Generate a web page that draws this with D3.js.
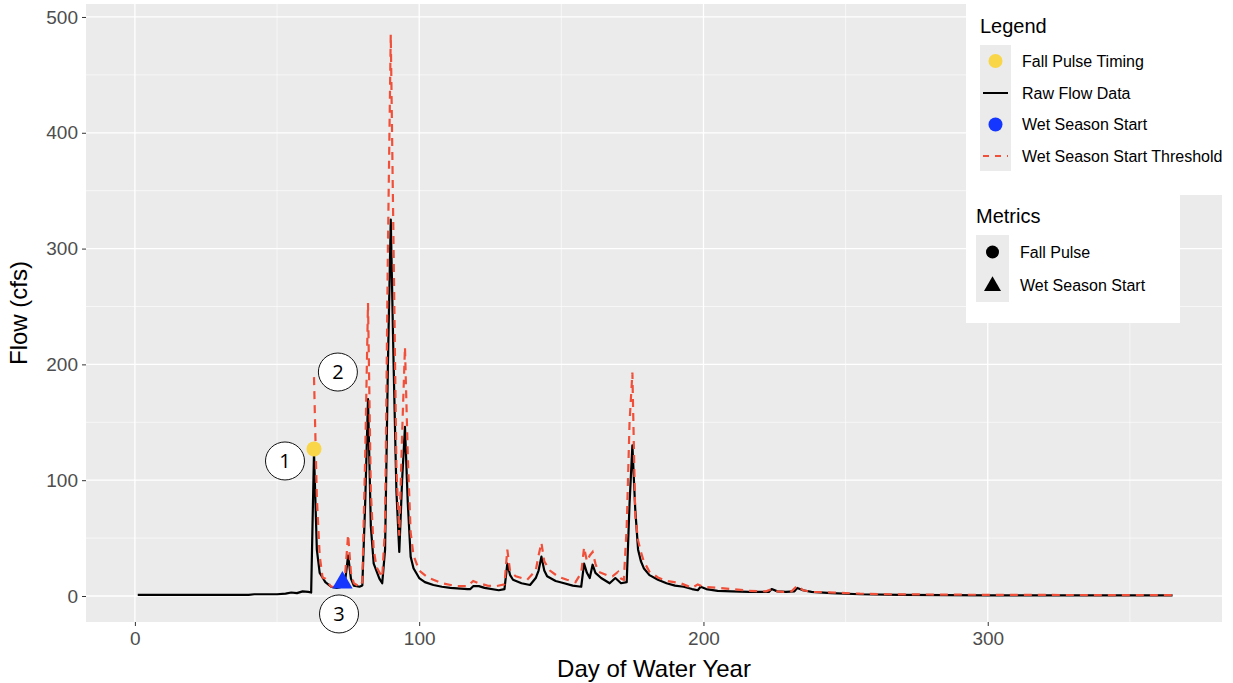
<!DOCTYPE html>
<html><head><meta charset="utf-8">
<script src="https://cdn.jsdelivr.net/npm/d3@7"></script>
<style>body{margin:0;background:#fff}svg{display:block;font-family:"Liberation Sans",Arial,sans-serif}</style>
</head><body><svg id="c" width="1233" height="683"></svg>
<script>
// ---------- data ----------
const flowDays   = [1,40,42,50,53,55,57,59,61,62,63,64,65,66,67,69,71,73,74,75,76,77,79,80,81,82,83,84,86,87,88,89,90,91,92,93,94,95,96,97,98,100,102,105,108,111,117,118,119,121,123,128,130,131,132,133,136,139,141,142,143,144,145,148,151,154,157,158,159,160,161,162,164,167,169,171,173,174,175,176,177,178,179,181,184,187,190,193,196,198,199,201,205,210,216,220,223,224,226,229,232,233,235,238,245,255,269,300,365];
const flowValues = [1,1,1.5,1.5,2,3,2.5,4,3.5,3,124,40,20,16,12,8,7,8,14,35,15,9,8,9,80,170,60,28,15,11,40,200,325,200,90,38,100,146,80,34,24,15.5,12,9.5,8,7,6,6,8.5,8.5,7,5,6,28,18,14,11,9.5,15.5,22,34,22,17,13,11,9,8,28,20,15.5,27,20,15.5,11,15.5,11,12,80,130,75,40,30,24,18,14,11,9,8,6,5,8,6,4.5,4,3.5,3.5,3.5,6,4,3.5,4,7,5,3.5,2.5,1.5,1,0.5,0.5];

const thresholdDays   = [63,64,65,66,67,69,71,73,74,75,76,77,79,80,81,82,83,84,85,87,88,89,90,91,92,93,94,95,96,97,98,100,103,105,108,113,117,119,121,124,127,130,131,132,134,138,141,142,143,144,146,149,152,155,157,158,159,160,161,162,163,166,168,170,171,172,173,174,175,176,177,178,179,181,184,187,192,196,198,200,205,210,216,222,224,226,228,231,233,235,238,246,255,265,300,365];
const thresholdValues = [189,85,35,16,15,8,8,9,20,53,20,11,8,12,120,253,90,40,25,16,60,300,485,300,110,52,140,215,120,55,35,22,16,14,11,8.5,8.5,13,11,9,8.5,10,40,21,17,14,22,35,46,30,22,16.5,14,12,20,42,30,35,38,28,21,18,17,21,15,14,60,150,193,70,48,38,30,21,16,13,11,7,10,8,7,6,4.5,4,6,4,3.5,4,9,5,3.5,3,2,1.5,1,0.7];

const fallPulseDays   = [63];
const fallPulseValues = [127];
const wetStartDays    = [73];
const wetStartValues  = [11.5];

const xTicks = [0,100,200,300];
const xMinor = [50,150,250,350];
const yTicks = [0,100,200,300,400,500];
const yMinor = [50,150,250,350,450];

const legendLabels  = ["Fall Pulse Timing","Raw Flow Data","Wet Season Start","Wet Season Start Threshold"];
const metricsLabels = ["Fall Pulse","Wet Season Start"];

const calloutLabels = ["1","2","3"];
const calloutDays   = [52.8,71.4,71.8];
const calloutValues = [116.6,193.4,-15.5];

// ---------- colours ----------
const COL_PANEL = "#EBEBEB", COL_RED = "#F0503A", COL_YELLOW = "#F9D548", COL_BLUE = "#1436FF";

// ---------- chart ----------
const svg = d3.select("#c");
const P = {l:86, r:1222, t:4, b:622};
const x = d3.scaleLinear().domain([-17.2, 382.4]).range([P.l, P.r]);
const y = d3.scaleLinear().domain([-22.45, 511.2]).range([P.b, P.t]);

svg.append("rect").attr("x",P.l).attr("y",P.t).attr("width",P.r-P.l).attr("height",P.b-P.t).attr("fill",COL_PANEL);

const grid = svg.append("g");
grid.selectAll(".xm").data(xMinor).join("line").attr("x1",d=>x(d)).attr("x2",d=>x(d)).attr("y1",P.t).attr("y2",P.b).attr("stroke","#fff").attr("stroke-width",0.6);
grid.selectAll(".ym").data(yMinor).join("line").attr("y1",d=>y(d)).attr("y2",d=>y(d)).attr("x1",P.l).attr("x2",P.r).attr("stroke","#fff").attr("stroke-width",0.6);
grid.selectAll(".xM").data(xTicks).join("line").attr("x1",d=>x(d)).attr("x2",d=>x(d)).attr("y1",P.t).attr("y2",P.b).attr("stroke","#fff").attr("stroke-width",1.3);
grid.selectAll(".yM").data(yTicks).join("line").attr("y1",d=>y(d)).attr("y2",d=>y(d)).attr("x1",P.l).attr("x2",P.r).attr("stroke","#fff").attr("stroke-width",1.3);

// axes
const xAxis = svg.append("g").attr("transform",`translate(0,${P.b})`)
  .call(d3.axisBottom(x).tickValues(xTicks).tickSize(4).tickPadding(6));
const yAxis = svg.append("g").attr("transform",`translate(${P.l},0)`)
  .call(d3.axisLeft(y).tickValues(yTicks).tickSize(4).tickPadding(4));
[xAxis,yAxis].forEach(a=>{
  a.select(".domain").remove();
  a.selectAll(".tick line").attr("stroke","#333").attr("stroke-width",1);
  a.selectAll(".tick text").attr("fill","#4D4D4D").style("font-size","19px").style("font-family","'Liberation Sans',Arial,sans-serif");
});

svg.append("text").attr("x",(P.l+P.r)/2).attr("y",677).attr("text-anchor","middle").style("font-size","24px").attr("fill","#000").text("Day of Water Year");
svg.append("text").attr("transform",`translate(27,${(P.t+P.b)/2}) rotate(-90)`).attr("text-anchor","middle").style("font-size","24px").attr("fill","#000").text("Flow (cfs)");

// lines
const flow = flowDays.map((d,i)=>[d,flowValues[i]]);
const thr  = thresholdDays.map((d,i)=>[d,thresholdValues[i]]);
const line = d3.line().x(d=>x(d[0])).y(d=>y(d[1]));
svg.append("path").datum(flow).attr("d",line).attr("fill","none").attr("stroke","#000").attr("stroke-width",2.2).attr("stroke-linejoin","round");
svg.append("path").datum(thr).attr("d",line).attr("fill","none").attr("stroke",COL_RED).attr("stroke-width",2.2).attr("stroke-dasharray","8,6");

// points
svg.selectAll(".fp").data(fallPulseDays).join("circle").attr("cx",d=>x(d)).attr("cy",(d,i)=>y(fallPulseValues[i])).attr("r",7.5).attr("fill",COL_YELLOW);
svg.selectAll(".ws").data(wetStartDays).join("path").attr("d",d3.symbol(d3.symbolTriangle,180)())
  .attr("transform",(d,i)=>`translate(${x(d)},${y(wetStartValues[i])})`).attr("fill",COL_BLUE);

// callouts
const co = svg.selectAll(".co").data(calloutLabels).join("g")
  .attr("transform",(d,i)=>`translate(${x(calloutDays[i])},${y(calloutValues[i])})`);
co.append("ellipse").attr("rx",19.5).attr("ry",19).attr("fill","#fff").attr("stroke","#111").attr("stroke-width",1);
co.append("text").attr("text-anchor","middle").attr("dy","0.36em").style("font-size","20px").style("font-family","'Open Sans',Arial,sans-serif").attr("fill","#000").text(d=>d);

// legend box
const lg = svg.append("g");
lg.append("rect").attr("x",966).attr("y",0).attr("width",267).attr("height",195).attr("fill","#fff");
lg.append("text").attr("x",980).attr("y",33).style("font-size","20px").text("Legend");
lg.append("rect").attr("x",980).attr("y",45).attr("width",31).attr("height",126).attr("fill",COL_PANEL);
const rowY = [61,93,124.5,156];
legendLabels.forEach((t,i)=>{
  lg.append("text").attr("x",1022).attr("y",rowY[i]).attr("dy","0.35em").style("font-size","16px").text(t);
});
lg.append("circle").attr("cx",995.5).attr("cy",rowY[0]).attr("r",7).attr("fill",COL_YELLOW);
lg.append("line").attr("x1",983).attr("x2",1008).attr("y1",rowY[1]).attr("y2",rowY[1]).attr("stroke","#000").attr("stroke-width",2);
lg.append("circle").attr("cx",995.5).attr("cy",rowY[2]).attr("r",7).attr("fill",COL_BLUE);
lg.append("line").attr("x1",983).attr("x2",1008).attr("y1",rowY[3]).attr("y2",rowY[3]).attr("stroke",COL_RED).attr("stroke-width",2).attr("stroke-dasharray","6,6");

const mg = svg.append("g");
mg.append("rect").attr("x",966).attr("y",195).attr("width",214).attr("height",128).attr("fill","#fff");
mg.append("text").attr("x",976).attr("y",223).style("font-size","20px").text("Metrics");
mg.append("rect").attr("x",976).attr("y",235).attr("width",33).attr("height",67).attr("fill",COL_PANEL);
const mRowY = [252,285];
metricsLabels.forEach((t,i)=>{
  mg.append("text").attr("x",1020).attr("y",mRowY[i]).attr("dy","0.35em").style("font-size","16px").text(t);
});
mg.append("circle").attr("cx",992.5).attr("cy",mRowY[0]).attr("r",6.5).attr("fill","#000");
mg.append("path").attr("d",d3.symbol(d3.symbolTriangle,125)()).attr("transform",`translate(992.5,${mRowY[1]+1})`).attr("fill","#000");
</script></body></html>
